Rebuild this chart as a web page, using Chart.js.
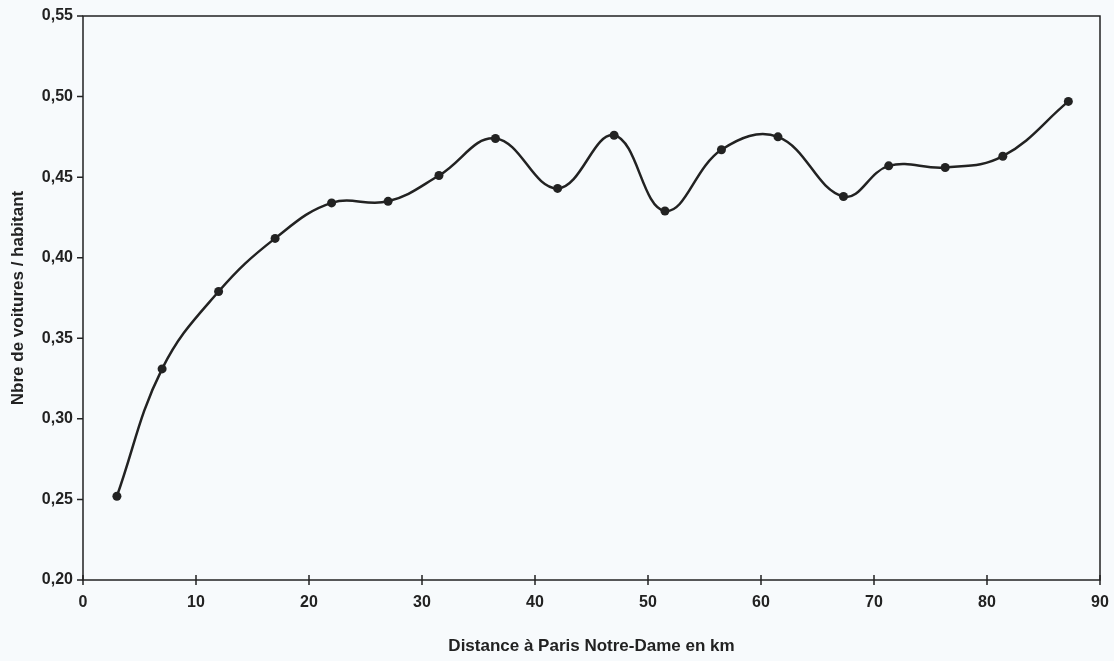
<!DOCTYPE html>
<html>
<head>
<meta charset="utf-8">
<script src="https://cdn.jsdelivr.net/npm/chart.js@4/dist/chart.umd.min.js"></script>
<style>
    html, body { margin: 0; padding: 0; background: #f7fafc; }
    #wrap { width: 1114px; height: 661px; }
</style>
</head>
<body>
<div id="wrap"><canvas id="voituresChart" width="1114" height="661"></canvas></div>
<script>
// distance (km) et nombre de voitures par habitant
const distances = [3, 7, 12, 17, 22, 27, 31.5, 36.5, 42, 47, 51.5, 56.5, 61.5, 67.3, 71.3, 76.3, 81.4, 87.2];
const voitures = [0.252, 0.331, 0.379, 0.412, 0.434, 0.435, 0.451, 0.474, 0.443, 0.476, 0.429, 0.467, 0.475, 0.438, 0.457, 0.456, 0.463, 0.497];
const xTicks = [0, 10, 20, 30, 40, 50, 60, 70, 80, 90];
const yTicks = [0.20, 0.25, 0.30, 0.35, 0.40, 0.45, 0.50, 0.55];

const ink = '#222222';
const tickFont = { family: 'Liberation Sans, Arial, sans-serif', size: 16, weight: 'bold' };
const titleFont = { family: 'Liberation Sans, Arial, sans-serif', size: 17, weight: 'bold' };

// cadre autour de la zone du graphique + petites graduations
const framePlugin = {
    id: 'frame',
    afterDraw(chart) {
        const { ctx, chartArea: a, scales } = chart;
        ctx.save();
        ctx.strokeStyle = ink;
        ctx.lineWidth = 1.5;
        ctx.strokeRect(a.left, a.top, a.right - a.left, a.bottom - a.top);
        ctx.beginPath();
        xTicks.forEach(v => {
            const px = scales.x.getPixelForValue(v);
            ctx.moveTo(px, a.bottom - 5);
            ctx.lineTo(px, a.bottom + 5);
        });
        yTicks.forEach(v => {
            const py = scales.y.getPixelForValue(v);
            ctx.moveTo(a.left - 6, py);
            ctx.lineTo(a.left, py);
        });
        ctx.stroke();
        ctx.restore();
    }
};

new Chart(document.getElementById('voituresChart'), {
    type: 'scatter',
    data: {
        datasets: [{
            label: 'Nbre de voitures / habitant',
            data: distances.map((d, i) => ({ x: d, y: voitures[i] })),
            showLine: true,
            tension: 0.4,
            borderColor: ink,
            borderWidth: 2.5,
            backgroundColor: ink,
            pointRadius: 4.5,
            pointBorderWidth: 0
        }]
    },
    options: {
        responsive: false,
        animation: false,
        layout: { padding: { left: 0, top: 16, right: 14, bottom: 0 } },
        plugins: {
            legend: { display: false },
            tooltip: { enabled: false }
        },
        scales: {
            x: {
                type: 'linear',
                min: 0,
                max: 90,
                afterBuildTicks: s => { s.ticks = xTicks.map(v => ({ value: v })); },
                afterFit: s => { s.height = 81; s.paddingLeft = 0; s.paddingRight = 0; },
                grid: { display: false, drawTicks: false },
                border: { display: false },
                ticks: { color: ink, font: tickFont, padding: 13, maxRotation: 0 },
                title: {
                    display: true,
                    text: 'Distance à Paris Notre-Dame en km',
                    color: ink,
                    font: titleFont,
                    padding: { top: 0, bottom: 4 }
                }
            },
            y: {
                min: 0.2,
                max: 0.55,
                afterBuildTicks: s => { s.ticks = yTicks.map(v => ({ value: v })); },
                afterFit: s => { s.width = 83; s.paddingTop = 0; s.paddingBottom = 0; },
                grid: { display: false, drawTicks: false },
                border: { display: false },
                ticks: {
                    color: ink,
                    font: tickFont,
                    padding: 10,
                    callback: v => v.toFixed(2).replace('.', ',')
                },
                title: {
                    display: true,
                    text: 'Nbre de voitures / habitant',
                    color: ink,
                    font: titleFont,
                    padding: { top: 8, bottom: 0 }
                }
            }
        }
    },
    plugins: [framePlugin]
});
</script>
</body>
</html>
